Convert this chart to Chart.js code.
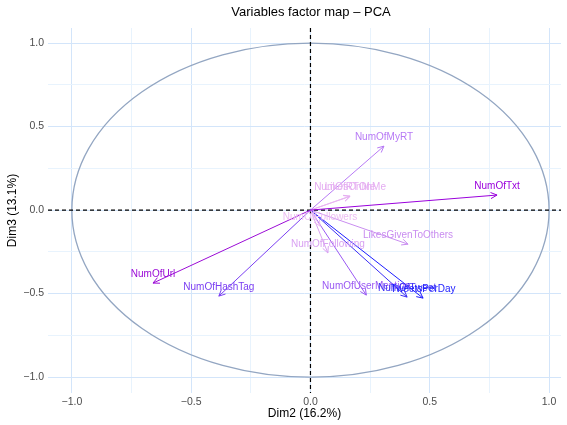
<!DOCTYPE html>
<html>
<head>
<meta charset="utf-8">
<script src="https://cdn.jsdelivr.net/npm/chart.js@4.4.1/dist/chart.umd.min.js"></script>
<style>
  html, body { margin: 0; padding: 0; background: #fff; }
  #wrap { width: 567px; height: 425px; }
</style>
</head>
<body>
<div id="wrap"><canvas id="pca"></canvas></div>
<script>
// variable coordinates on Dim2 / Dim3
const varNames = ['NumOfTxt', 'NumOfUrl', 'NumOfHashTag', 'NumOfMyRT', 'LikesOnMe', 'NumOfRTOnMe',
    'NumOfFollowers', 'NumOfFollowing', 'LikesGivenToOthers', 'NumOfUserMention', 'NumOfTweet', 'TweetsPerDay'];
const dim2 = [0.782, -0.660, -0.384, 0.308, 0.166, 0.166, 0.040, 0.073, 0.409, 0.234, 0.405, 0.472];
const dim3 = [0.090, -0.437, -0.515, 0.383, 0.084, 0.082, -0.096, -0.257, -0.204, -0.509, -0.521, -0.527];
const varColors = ['#9a00dc', '#9b0bd6', '#7b3ff2', '#b77af5', '#e9b6f1', '#e4acf2',
    '#ecbdf2', '#d9a2f2', '#c98df0', '#9a58f3', '#3c2ef5', '#1c1cff'];
const xTicks = [-1.0, -0.5, 0.0, 0.5, 1.0];
const yTicks = [-1.0, -0.5, 0.0, 0.5, 1.0];

const FONT = '"Liberation Sans", Arial, sans-serif';

function fmt(v) {
    const s = Math.abs(v).toFixed(1);
    return v < -1e-9 ? '\u2212' + s : s;
}
function isMajor(v) {
    return xTicks.some(t => Math.abs(t - v) < 1e-6);
}
function quarterTicks(scale) {
    const t = [];
    for (let v = -1.0; v <= 1.0001; v += 0.25) t.push({ value: Math.round(v * 100) / 100 });
    scale.ticks = t;
}

const datasets = varNames.map((name, i) => ({
    label: name,
    data: [{x: 0, y: 0}, {x: dim2[i], y: dim3[i]}],
    borderColor: varColors[i],
    borderWidth: 1,
    pointRadius: 0,
    showLine: true,
    fill: false
}));

const pcaPlugin = {
    id: 'pcaDecor',
    beforeDatasetsDraw(chart) {
        const ctx = chart.ctx;
        const xs = chart.scales.x, ys = chart.scales.y;
        const area = chart.chartArea;
        const cx = xs.getPixelForValue(0), cy = ys.getPixelForValue(0);
        const rx = xs.getPixelForValue(1) - cx, ry = cy - ys.getPixelForValue(1);
        ctx.save();
        ctx.strokeStyle = '#93a6c2';
        ctx.lineWidth = 1.3;
        ctx.beginPath();
        ctx.ellipse(cx, cy, rx, ry, 0, 0, Math.PI * 2);
        ctx.stroke();
        ctx.strokeStyle = '#000';
        ctx.lineWidth = 1.2;
        ctx.setLineDash([4, 3]);
        ctx.beginPath();
        ctx.moveTo(area.left, cy); ctx.lineTo(area.right, cy);
        ctx.moveTo(cx, area.top); ctx.lineTo(cx, area.bottom);
        ctx.stroke();
        ctx.restore();
    },
    afterDatasetsDraw(chart) {
        const ctx = chart.ctx;
        const xs = chart.scales.x, ys = chart.scales.y;
        const x0 = xs.getPixelForValue(0), y0 = ys.getPixelForValue(0);
        ctx.save();
        ctx.font = '10px ' + FONT;
        ctx.textAlign = 'center';
        ctx.textBaseline = 'middle';
        varNames.forEach((name, i) => {
            const px = xs.getPixelForValue(dim2[i]);
            const py = ys.getPixelForValue(dim3[i]);
            const ang = Math.atan2(py - y0, px - x0);
            const len = 7, spread = Math.PI / 7;
            ctx.strokeStyle = varColors[i];
            ctx.lineWidth = 1;
            ctx.beginPath();
            ctx.moveTo(px - len * Math.cos(ang - spread), py - len * Math.sin(ang - spread));
            ctx.lineTo(px, py);
            ctx.lineTo(px - len * Math.cos(ang + spread), py - len * Math.sin(ang + spread));
            ctx.stroke();
            ctx.fillStyle = varColors[i];
            ctx.fillText(name, px, py - 9);
        });
        // title
        ctx.fillStyle = '#000';
        ctx.font = '13px ' + FONT;
        ctx.fillText('Variables factor map \u2013 PCA', 311, 12);
        ctx.restore();
    }
};

new Chart(document.getElementById('pca'), {
    type: 'scatter',
    data: { datasets: datasets },
    options: {
        responsive: true,
        maintainAspectRatio: false,
        animation: false,
        layout: { padding: { top: 28, right: 6, left: 0, bottom: 0 } },
        plugins: {
            legend: { display: false },
            tooltip: { enabled: false }
        },
        scales: {
            x: {
                type: 'linear',
                min: -1.1,
                max: 1.05,
                afterFit(scale) { scale.height = 32; },
                afterBuildTicks: quarterTicks,
                border: { display: false },
                grid: {
                    color: c => isMajor(c.tick.value) ? '#d3e5fa' : '#e8f3fd',
                    lineWidth: 1,
                    drawTicks: false
                },
                ticks: {
                    padding: 3,
                    color: '#4d4d4d',
                    font: { size: 10.5, family: FONT },
                    callback: v => isMajor(v) ? fmt(v) : ''
                },
                title: {
                    display: true,
                    text: 'Dim2 (16.2%)',
                    color: '#000',
                    padding: { top: 0, bottom: 4 },
                    font: { size: 12, family: FONT }
                }
            },
            y: {
                type: 'linear',
                min: -1.095,
                max: 1.09,
                afterFit(scale) { scale.width = 48; },
                afterBuildTicks: quarterTicks,
                border: { display: false },
                grid: {
                    color: c => isMajor(c.tick.value) ? '#d3e5fa' : '#e8f3fd',
                    lineWidth: 1,
                    drawTicks: false
                },
                ticks: {
                    padding: 4,
                    color: '#4d4d4d',
                    font: { size: 10.5, family: FONT },
                    callback: v => yTicks.some(t => Math.abs(t - v) < 1e-6) ? fmt(v) : ''
                },
                title: {
                    display: true,
                    text: 'Dim3 (13.1%)',
                    color: '#000',
                    padding: { top: 5, bottom: 0 },
                    font: { size: 12, family: FONT }
                }
            }
        }
    },
    plugins: [pcaPlugin]
});
</script>
</body>
</html>
